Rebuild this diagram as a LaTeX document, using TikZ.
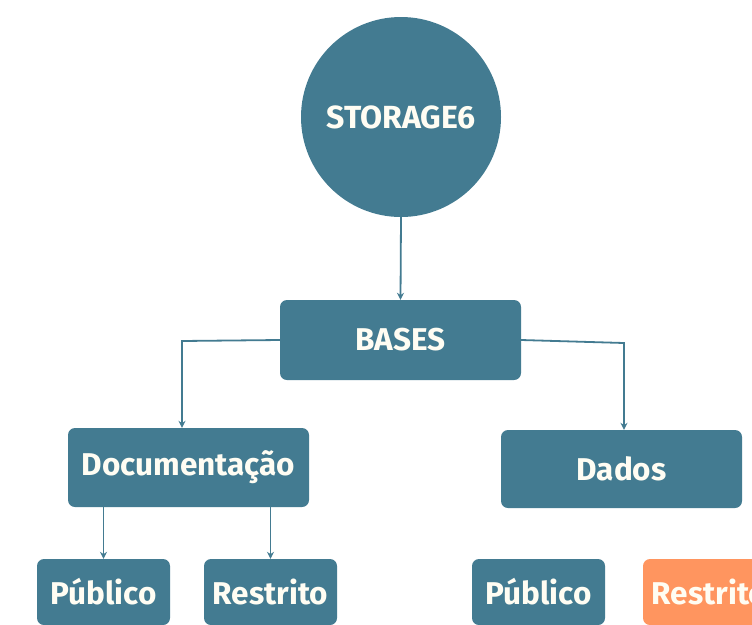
\documentclass[tikz,border=0pt]{standalone}
\usepackage{fontspec}
\setmainfont{Fira Sans}
\usetikzlibrary{arrows.meta}
\definecolor{teal}{HTML}{437B91}
\definecolor{orng}{HTML}{FF955F}
\definecolor{txt}{HTML}{FFFDF3}
\begin{document}
\begin{tikzpicture}[x=1pt,y=-1pt,
  box/.style={rectangle,rounded corners=7pt,fill=teal,draw=none,text=txt,font=\bfseries\fontsize{31.5}{34}\selectfont,inner sep=0pt,anchor=center},
  lbl/.style={text=txt,font=\bfseries\fontsize{31.5}{34}\selectfont,inner sep=0pt},
  conn/.style={draw=teal,line width=1.8pt,-{Stealth[length=7pt,width=7pt]}}]
\useasboundingbox (0,0) rectangle (752,624);
\clip (0,0) rectangle (752,624);
\node[circle,fill=teal,minimum size=200pt,inner sep=0pt,text=txt,font=\bfseries\fontsize{32}{34}\selectfont] (st) at (401,117) {STORAGE6};
\node[box,minimum width=241pt,minimum height=80pt] (ba) at (400.5,340) {BASES};
\node[box,minimum width=241pt,minimum height=79pt] (doc) at (188.5,467.5) {Documentação};
\node[box,minimum width=241pt,minimum height=78pt] (da) at (621.5,469) {Dados};
\node[box,minimum width=133pt,minimum height=66pt] (p1) at (103.5,592) {Público};
\node[box,minimum width=133pt,minimum height=66pt] (r1) at (270.5,592) {Restrito};
\node[box,minimum width=133pt,minimum height=66pt] (p2) at (538.5,592) {Público};
\node[box,fill=orng,minimum width=133pt,minimum height=66pt] (r2) at (709.5,592) {Restrito};
\fill[teal] (p1.south west) rectangle ([yshift=-20pt]p1.south east);
\fill[teal] (r1.south west) rectangle ([yshift=-20pt]r1.south east);
\fill[teal] (p2.south west) rectangle ([yshift=-20pt]p2.south east);
\fill[orng] (r2.south west) rectangle ([yshift=-20pt]r2.south east);
\coordinate (c1) at (182,341);
\coordinate (c2) at (624,343);
\draw[conn] (st.south) -- (ba.north);
\draw[conn] (ba.west) -- (c1) -- (c1 |- doc.north);
\draw[conn] (ba.east) -- (c2) -- (c2 |- da.north);
\draw[conn] (doc.south -| p1.north) -- (p1.north);
\draw[conn] (r1.north |- doc.south) -- (r1.north);
\end{tikzpicture}
\end{document}
